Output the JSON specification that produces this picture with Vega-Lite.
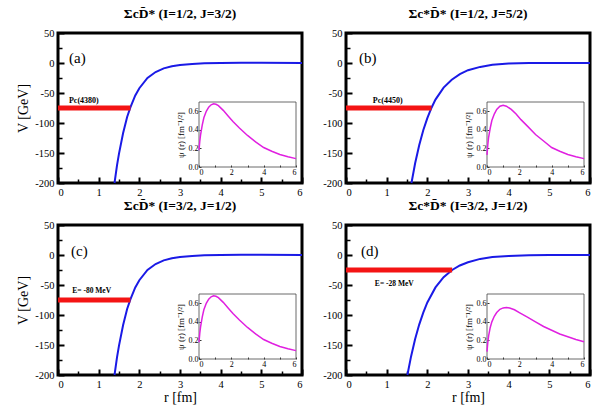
{
  "$schema": "https://vega.github.io/schema/vega-lite/v6.json",
  "padding": {"left": 15, "top": 5, "right": 5, "bottom": 2},
  "config": {
    "font": "Liberation Serif",
    "view": {"stroke": "black", "strokeWidth": 3},
    "axis": {
      "domain": false, "grid": false, "ticks": true, "tickColor": "black", "tickSize": -6, "tickWidth": 2,
      "labelFont": "Liberation Serif", "labelFontSize": 10.5, "labelColor": "black", "labelOverlap": false,
      "titleFont": "Liberation Serif", "titleFontWeight": "normal", "titleFontSize": 14,
      "titleColor": "black", "labelPadding": 10, "zindex": 2
    },
    "title": {"font": "Liberation Serif", "fontSize": 13.5, "fontWeight": "bold", "offset": 8, "color": "black"},
    "text": {"font": "Liberation Serif", "color": "black"}
  },
  "datasets": {
    "pot": [
      {"panel": "a", "r": 1.39, "V": -200}, {"panel": "a", "r": 1.45, "V": -171}, {"panel": "a", "r": 1.5, "V": -151},
      {"panel": "a", "r": 1.6, "V": -117}, {"panel": "a", "r": 1.7, "V": -90}, {"panel": "a", "r": 1.78, "V": -74},
      {"panel": "a", "r": 1.9, "V": -54}, {"panel": "a", "r": 2.0, "V": -42}, {"panel": "a", "r": 2.2, "V": -25},
      {"panel": "a", "r": 2.4, "V": -15}, {"panel": "a", "r": 2.6, "V": -9}, {"panel": "a", "r": 2.8, "V": -5.4},
      {"panel": "a", "r": 3.0, "V": -3.2}, {"panel": "a", "r": 3.3, "V": -1.5}, {"panel": "a", "r": 3.6, "V": -0.6},
      {"panel": "a", "r": 4.0, "V": 0}, {"panel": "a", "r": 4.5, "V": 0.3}, {"panel": "a", "r": 5.0, "V": 0.3},
      {"panel": "a", "r": 6.0, "V": 0.2},
      {"panel": "b", "r": 1.61, "V": -200}, {"panel": "b", "r": 1.7, "V": -167}, {"panel": "b", "r": 1.8, "V": -137},
      {"panel": "b", "r": 1.9, "V": -112}, {"panel": "b", "r": 2.0, "V": -92}, {"panel": "b", "r": 2.1, "V": -75},
      {"panel": "b", "r": 2.2, "V": -61}, {"panel": "b", "r": 2.4, "V": -41}, {"panel": "b", "r": 2.6, "V": -28},
      {"panel": "b", "r": 2.8, "V": -18.5}, {"panel": "b", "r": 3.0, "V": -12}, {"panel": "b", "r": 3.3, "V": -6.5},
      {"panel": "b", "r": 3.6, "V": -3}, {"panel": "b", "r": 4.0, "V": -1}, {"panel": "b", "r": 4.5, "V": -0.2},
      {"panel": "b", "r": 5.0, "V": 0.2}, {"panel": "b", "r": 6.0, "V": 0.2},
      {"panel": "c", "r": 1.39, "V": -200}, {"panel": "c", "r": 1.45, "V": -171}, {"panel": "c", "r": 1.5, "V": -151},
      {"panel": "c", "r": 1.6, "V": -117}, {"panel": "c", "r": 1.7, "V": -90}, {"panel": "c", "r": 1.78, "V": -74},
      {"panel": "c", "r": 1.9, "V": -54}, {"panel": "c", "r": 2.0, "V": -42}, {"panel": "c", "r": 2.2, "V": -25},
      {"panel": "c", "r": 2.4, "V": -15}, {"panel": "c", "r": 2.6, "V": -9}, {"panel": "c", "r": 2.8, "V": -5.4},
      {"panel": "c", "r": 3.0, "V": -3.2}, {"panel": "c", "r": 3.3, "V": -1.5}, {"panel": "c", "r": 3.6, "V": -0.6},
      {"panel": "c", "r": 4.0, "V": 0}, {"panel": "c", "r": 4.5, "V": 0.3}, {"panel": "c", "r": 5.0, "V": 0.3},
      {"panel": "c", "r": 6.0, "V": 0.2},
      {"panel": "d", "r": 1.51, "V": -200}, {"panel": "d", "r": 1.6, "V": -169}, {"panel": "d", "r": 1.7, "V": -140},
      {"panel": "d", "r": 1.8, "V": -116}, {"panel": "d", "r": 1.9, "V": -96}, {"panel": "d", "r": 2.0, "V": -79},
      {"panel": "d", "r": 2.2, "V": -54}, {"panel": "d", "r": 2.4, "V": -37}, {"panel": "d", "r": 2.61, "V": -25},
      {"panel": "d", "r": 2.8, "V": -17.5}, {"panel": "d", "r": 3.0, "V": -12}, {"panel": "d", "r": 3.3, "V": -6.5},
      {"panel": "d", "r": 3.6, "V": -3.5}, {"panel": "d", "r": 4.0, "V": -1.5}, {"panel": "d", "r": 4.5, "V": -0.5},
      {"panel": "d", "r": 5.0, "V": 0}, {"panel": "d", "r": 6.0, "V": 0.2}
    ],
    "bar": [
      {"panel": "a", "r0": 0, "r1": 1.78, "E": -75},
      {"panel": "b", "r0": 0, "r1": 2.1, "E": -75},
      {"panel": "c", "r0": 0, "r1": 1.78, "E": -75},
      {"panel": "d", "r0": 0, "r1": 2.61, "E": -25}
    ],
    "lab": [
      {"panel": "a", "r": 0.27, "V": -57, "text": "Pc(4380)"},
      {"panel": "b", "r": 0.66, "V": -58, "text": "Pc(4450)"},
      {"panel": "c", "r": 0.35, "V": -55, "text": "E= -80 MeV"},
      {"panel": "d", "r": 0.71, "V": -43, "text": "E= -28 MeV"}
    ],
    "tag": [
      {"panel": "a", "r": 0.27, "V": 17, "text": "(a)"},
      {"panel": "b", "r": 0.32, "V": 17, "text": "(b)"},
      {"panel": "c", "r": 0.32, "V": 15, "text": "(c)"},
      {"panel": "d", "r": 0.37, "V": 15, "text": "(d)"}
    ],
    "wave": [
      {"panel": "a", "r": 0, "psi": 0.18}, {"panel": "a", "r": 0.05, "psi": 0.28}, {"panel": "a", "r": 0.1, "psi": 0.35},
      {"panel": "a", "r": 0.2, "psi": 0.45}, {"panel": "a", "r": 0.3, "psi": 0.53}, {"panel": "a", "r": 0.45, "psi": 0.6},
      {"panel": "a", "r": 0.6, "psi": 0.645}, {"panel": "a", "r": 0.75, "psi": 0.67}, {"panel": "a", "r": 0.9, "psi": 0.68},
      {"panel": "a", "r": 1.05, "psi": 0.675}, {"panel": "a", "r": 1.2, "psi": 0.66}, {"panel": "a", "r": 1.5, "psi": 0.61},
      {"panel": "a", "r": 1.8, "psi": 0.55}, {"panel": "a", "r": 2.1, "psi": 0.49}, {"panel": "a", "r": 2.5, "psi": 0.42},
      {"panel": "a", "r": 3.0, "psi": 0.34}, {"panel": "a", "r": 3.5, "psi": 0.27}, {"panel": "a", "r": 4.0, "psi": 0.21},
      {"panel": "a", "r": 4.5, "psi": 0.17}, {"panel": "a", "r": 5.0, "psi": 0.135}, {"panel": "a", "r": 5.5, "psi": 0.11},
      {"panel": "a", "r": 6.0, "psi": 0.09},
      {"panel": "b", "r": 0, "psi": 0.13}, {"panel": "b", "r": 0.05, "psi": 0.24}, {"panel": "b", "r": 0.1, "psi": 0.32},
      {"panel": "b", "r": 0.2, "psi": 0.42}, {"panel": "b", "r": 0.3, "psi": 0.5}, {"panel": "b", "r": 0.45, "psi": 0.57},
      {"panel": "b", "r": 0.6, "psi": 0.62}, {"panel": "b", "r": 0.8, "psi": 0.655}, {"panel": "b", "r": 1.0, "psi": 0.665},
      {"panel": "b", "r": 1.2, "psi": 0.655}, {"panel": "b", "r": 1.5, "psi": 0.62}, {"panel": "b", "r": 1.8, "psi": 0.57},
      {"panel": "b", "r": 2.1, "psi": 0.51}, {"panel": "b", "r": 2.5, "psi": 0.44}, {"panel": "b", "r": 3.0, "psi": 0.35},
      {"panel": "b", "r": 3.5, "psi": 0.28}, {"panel": "b", "r": 4.0, "psi": 0.21}, {"panel": "b", "r": 4.5, "psi": 0.17},
      {"panel": "b", "r": 5.0, "psi": 0.135}, {"panel": "b", "r": 5.5, "psi": 0.11}, {"panel": "b", "r": 6.0, "psi": 0.09},
      {"panel": "c", "r": 0, "psi": 0.18}, {"panel": "c", "r": 0.05, "psi": 0.28}, {"panel": "c", "r": 0.1, "psi": 0.35},
      {"panel": "c", "r": 0.2, "psi": 0.45}, {"panel": "c", "r": 0.3, "psi": 0.53}, {"panel": "c", "r": 0.45, "psi": 0.6},
      {"panel": "c", "r": 0.6, "psi": 0.645}, {"panel": "c", "r": 0.75, "psi": 0.67}, {"panel": "c", "r": 0.9, "psi": 0.68},
      {"panel": "c", "r": 1.05, "psi": 0.675}, {"panel": "c", "r": 1.2, "psi": 0.66}, {"panel": "c", "r": 1.5, "psi": 0.61},
      {"panel": "c", "r": 1.8, "psi": 0.55}, {"panel": "c", "r": 2.1, "psi": 0.49}, {"panel": "c", "r": 2.5, "psi": 0.42},
      {"panel": "c", "r": 3.0, "psi": 0.34}, {"panel": "c", "r": 3.5, "psi": 0.27}, {"panel": "c", "r": 4.0, "psi": 0.21},
      {"panel": "c", "r": 4.5, "psi": 0.17}, {"panel": "c", "r": 5.0, "psi": 0.135}, {"panel": "c", "r": 5.5, "psi": 0.11},
      {"panel": "c", "r": 6.0, "psi": 0.09},
      {"panel": "d", "r": 0, "psi": 0.08}, {"panel": "d", "r": 0.05, "psi": 0.18}, {"panel": "d", "r": 0.1, "psi": 0.25},
      {"panel": "d", "r": 0.2, "psi": 0.34}, {"panel": "d", "r": 0.3, "psi": 0.4}, {"panel": "d", "r": 0.45, "psi": 0.46},
      {"panel": "d", "r": 0.6, "psi": 0.5}, {"panel": "d", "r": 0.8, "psi": 0.535}, {"panel": "d", "r": 1.0, "psi": 0.55},
      {"panel": "d", "r": 1.2, "psi": 0.555}, {"panel": "d", "r": 1.4, "psi": 0.55}, {"panel": "d", "r": 1.7, "psi": 0.53},
      {"panel": "d", "r": 2.0, "psi": 0.5}, {"panel": "d", "r": 2.5, "psi": 0.45}, {"panel": "d", "r": 3.0, "psi": 0.4},
      {"panel": "d", "r": 3.5, "psi": 0.35}, {"panel": "d", "r": 4.0, "psi": 0.31}, {"panel": "d", "r": 4.5, "psi": 0.27},
      {"panel": "d", "r": 5.0, "psi": 0.24}, {"panel": "d", "r": 5.5, "psi": 0.21}, {"panel": "d", "r": 6.0, "psi": 0.185}
    ]
  },
  "columns": 2,
  "spacing": {"row": 42, "column": 44},
  "bounds": "flush",
  "concat": [
    {
      "width": 244, "height": 150,
      "title": "ΣcD̄* (I=1/2, J=3/2)",
      "layer": [
        {"data": {"name": "pot"}, "transform": [{"filter": "datum.panel == 'a'"}],
         "mark": {"type": "line", "color": "#1a1ae6", "strokeWidth": 2},
         "encoding": {
           "x": {"field": "r", "type": "quantitative", "scale": {"domain": [0, 6], "nice": false},
                 "axis": {"orient": "bottom", "title": null, "values": [0, 1, 2, 3, 4, 5, 6]}},
           "y": {"field": "V", "type": "quantitative", "scale": {"domain": [-200, 50], "nice": false, "zero": false},
                 "axis": {"orient": "left", "title": "V [GeV]", "values": [-200, -150, -100, -50, 0, 50], "labelExpr": "'' + datum.value"}}
         }},
        {"data": {"name": "bar"}, "transform": [{"filter": "datum.panel == 'a'"}],
         "mark": {"type": "rule", "color": "#f41414", "strokeWidth": 5},
         "encoding": {
           "x": {"field": "r0", "type": "quantitative", "scale": {"domain": [0, 6], "nice": false},
                 "axis": {"orient": "bottom", "title": null, "labels": false, "tickSize": -4, "tickWidth": 1.5, "values": [0.5, 1.5, 2.5, 3.5, 4.5, 5.5]}},
           "x2": {"field": "r1"},
           "y": {"field": "E", "type": "quantitative", "scale": {"domain": [-200, 50], "nice": false, "zero": false},
                 "axis": {"orient": "left", "title": null, "labels": false, "tickSize": -4, "tickWidth": 1.5, "values": [-175, -125, -75, -25, 25]}}
         }},
        {"layer": [
          {"data": {"name": "lab"}, "transform": [{"filter": "datum.panel == 'a'"}],
           "mark": {"type": "text", "align": "left", "fontWeight": "bold", "fontSize": 8},
           "encoding": {"x": {"field": "r", "type": "quantitative", "scale": {"domain": [0, 6]}, "axis": null}, "y": {"field": "V", "type": "quantitative", "scale": {"domain": [-200, 50]}, "axis": null}, "text": {"field": "text"}}},
          {"data": {"name": "tag"}, "transform": [{"filter": "datum.panel == 'a'"}],
           "mark": {"type": "text", "align": "left", "fontSize": 15},
           "encoding": {"x": {"field": "r", "type": "quantitative", "axis": null}, "y": {"field": "V", "type": "quantitative", "axis": null}, "text": {"field": "text"}}}
        ]},
        {"layer": [
          {"data": {"values": [{}]},
           "mark": {"type": "rect", "fill": null, "stroke": "#444", "strokeWidth": 0.8},
           "encoding": {"x": {"datum": 0, "type": "quantitative"}, "x2": {"datum": 6}, "y": {"datum": 0, "type": "quantitative"}, "y2": {"datum": 0.7}}},
          {"data": {"name": "wave"}, "transform": [{"filter": "datum.panel == 'a'"}],
           "mark": {"type": "line", "color": "#e020e0", "strokeWidth": 1.5},
           "encoding": {
             "x": {"field": "r", "type": "quantitative", "scale": {"domain": [0, 6], "nice": false, "range": [141, 238]},
                   "axis": {"orient": "bottom", "offset": -16, "title": null, "values": [0, 1, 2, 3, 4, 5, 6], "labelExpr": "datum.value % 2 == 0 ? datum.label : ''", "tickSize": -2, "tickWidth": 0.8, "labelFontSize": 8, "labelPadding": 3}},
             "y": {"field": "psi", "type": "quantitative", "scale": {"domain": [0, 0.7], "nice": false, "range": [134, 69]},
                   "axis": {"orient": "left", "offset": -141, "title": "ψ (r) [fm⁻¹/²]", "titleFontSize": 9, "titlePadding": 3, "values": [0, 0.1, 0.2, 0.3, 0.4, 0.5, 0.6], "format": ".1f", "labelExpr": "round(datum.value * 10) % 2 == 0 ? datum.label : ''", "tickSize": -2, "tickWidth": 0.8, "labelFontSize": 8, "labelPadding": 3}}
           }}
        ]}
      ],
      "resolve": {"scale": {"x": "independent", "y": "independent"}}
    },
    {
      "width": 244, "height": 150,
      "title": "Σc*D̄* (I=1/2, J=5/2)",
      "layer": [
        {"data": {"name": "pot"}, "transform": [{"filter": "datum.panel == 'b'"}],
         "mark": {"type": "line", "color": "#1a1ae6", "strokeWidth": 2},
         "encoding": {
           "x": {"field": "r", "type": "quantitative", "scale": {"domain": [0, 6], "nice": false},
                 "axis": {"orient": "bottom", "title": null, "values": [0, 1, 2, 3, 4, 5, 6]}},
           "y": {"field": "V", "type": "quantitative", "scale": {"domain": [-200, 50], "nice": false, "zero": false},
                 "axis": {"orient": "left", "title": null, "values": [-200, -150, -100, -50, 0, 50], "labelExpr": "'' + datum.value"}}
         }},
        {"data": {"name": "bar"}, "transform": [{"filter": "datum.panel == 'b'"}],
         "mark": {"type": "rule", "color": "#f41414", "strokeWidth": 5},
         "encoding": {
           "x": {"field": "r0", "type": "quantitative", "scale": {"domain": [0, 6], "nice": false},
                 "axis": {"orient": "bottom", "title": null, "labels": false, "tickSize": -4, "tickWidth": 1.5, "values": [0.5, 1.5, 2.5, 3.5, 4.5, 5.5]}},
           "x2": {"field": "r1"},
           "y": {"field": "E", "type": "quantitative", "scale": {"domain": [-200, 50], "nice": false, "zero": false},
                 "axis": {"orient": "left", "title": null, "labels": false, "tickSize": -4, "tickWidth": 1.5, "values": [-175, -125, -75, -25, 25]}}
         }},
        {"layer": [
          {"data": {"name": "lab"}, "transform": [{"filter": "datum.panel == 'b'"}],
           "mark": {"type": "text", "align": "left", "fontWeight": "bold", "fontSize": 8},
           "encoding": {"x": {"field": "r", "type": "quantitative", "scale": {"domain": [0, 6]}, "axis": null}, "y": {"field": "V", "type": "quantitative", "scale": {"domain": [-200, 50]}, "axis": null}, "text": {"field": "text"}}},
          {"data": {"name": "tag"}, "transform": [{"filter": "datum.panel == 'b'"}],
           "mark": {"type": "text", "align": "left", "fontSize": 15},
           "encoding": {"x": {"field": "r", "type": "quantitative", "axis": null}, "y": {"field": "V", "type": "quantitative", "axis": null}, "text": {"field": "text"}}}
        ]},
        {"layer": [
          {"data": {"values": [{}]},
           "mark": {"type": "rect", "fill": null, "stroke": "#444", "strokeWidth": 0.8},
           "encoding": {"x": {"datum": 0, "type": "quantitative"}, "x2": {"datum": 6}, "y": {"datum": 0, "type": "quantitative"}, "y2": {"datum": 0.7}}},
          {"data": {"name": "wave"}, "transform": [{"filter": "datum.panel == 'b'"}],
           "mark": {"type": "line", "color": "#e020e0", "strokeWidth": 1.5},
           "encoding": {
             "x": {"field": "r", "type": "quantitative", "scale": {"domain": [0, 6], "nice": false, "range": [141, 238]},
                   "axis": {"orient": "bottom", "offset": -16, "title": null, "values": [0, 1, 2, 3, 4, 5, 6], "labelExpr": "datum.value % 2 == 0 ? datum.label : ''", "tickSize": -2, "tickWidth": 0.8, "labelFontSize": 8, "labelPadding": 3}},
             "y": {"field": "psi", "type": "quantitative", "scale": {"domain": [0, 0.7], "nice": false, "range": [134, 69]},
                   "axis": {"orient": "left", "offset": -141, "title": "ψ (r) [fm⁻¹/²]", "titleFontSize": 9, "titlePadding": 3, "values": [0, 0.1, 0.2, 0.3, 0.4, 0.5, 0.6], "format": ".1f", "labelExpr": "round(datum.value * 10) % 2 == 0 ? datum.label : ''", "tickSize": -2, "tickWidth": 0.8, "labelFontSize": 8, "labelPadding": 3}}
           }}
        ]}
      ],
      "resolve": {"scale": {"x": "independent", "y": "independent"}}
    },
    {
      "width": 244, "height": 150,
      "title": "ΣcD̄* (I=3/2, J=1/2)",
      "layer": [
        {"data": {"name": "pot"}, "transform": [{"filter": "datum.panel == 'c'"}],
         "mark": {"type": "line", "color": "#1a1ae6", "strokeWidth": 2},
         "encoding": {
           "x": {"field": "r", "type": "quantitative", "scale": {"domain": [0, 6], "nice": false},
                 "axis": {"orient": "bottom", "title": "r [fm]", "titlePadding": 1, "values": [0, 1, 2, 3, 4, 5, 6]}},
           "y": {"field": "V", "type": "quantitative", "scale": {"domain": [-200, 50], "nice": false, "zero": false},
                 "axis": {"orient": "left", "title": "V [GeV]", "values": [-200, -150, -100, -50, 0, 50], "labelExpr": "'' + datum.value"}}
         }},
        {"data": {"name": "bar"}, "transform": [{"filter": "datum.panel == 'c'"}],
         "mark": {"type": "rule", "color": "#f41414", "strokeWidth": 5},
         "encoding": {
           "x": {"field": "r0", "type": "quantitative", "scale": {"domain": [0, 6], "nice": false},
                 "axis": {"orient": "bottom", "title": null, "labels": false, "tickSize": -4, "tickWidth": 1.5, "values": [0.5, 1.5, 2.5, 3.5, 4.5, 5.5]}},
           "x2": {"field": "r1"},
           "y": {"field": "E", "type": "quantitative", "scale": {"domain": [-200, 50], "nice": false, "zero": false},
                 "axis": {"orient": "left", "title": null, "labels": false, "tickSize": -4, "tickWidth": 1.5, "values": [-175, -125, -75, -25, 25]}}
         }},
        {"layer": [
          {"data": {"name": "lab"}, "transform": [{"filter": "datum.panel == 'c'"}],
           "mark": {"type": "text", "align": "left", "fontWeight": "bold", "fontSize": 7.5},
           "encoding": {"x": {"field": "r", "type": "quantitative", "scale": {"domain": [0, 6]}, "axis": null}, "y": {"field": "V", "type": "quantitative", "scale": {"domain": [-200, 50]}, "axis": null}, "text": {"field": "text"}}},
          {"data": {"name": "tag"}, "transform": [{"filter": "datum.panel == 'c'"}],
           "mark": {"type": "text", "align": "left", "fontSize": 15},
           "encoding": {"x": {"field": "r", "type": "quantitative", "axis": null}, "y": {"field": "V", "type": "quantitative", "axis": null}, "text": {"field": "text"}}}
        ]},
        {"layer": [
          {"data": {"values": [{}]},
           "mark": {"type": "rect", "fill": null, "stroke": "#444", "strokeWidth": 0.8},
           "encoding": {"x": {"datum": 0, "type": "quantitative"}, "x2": {"datum": 6}, "y": {"datum": 0, "type": "quantitative"}, "y2": {"datum": 0.7}}},
          {"data": {"name": "wave"}, "transform": [{"filter": "datum.panel == 'c'"}],
           "mark": {"type": "line", "color": "#e020e0", "strokeWidth": 1.5},
           "encoding": {
             "x": {"field": "r", "type": "quantitative", "scale": {"domain": [0, 6], "nice": false, "range": [141, 238]},
                   "axis": {"orient": "bottom", "offset": -16, "title": null, "values": [0, 1, 2, 3, 4, 5, 6], "labelExpr": "datum.value % 2 == 0 ? datum.label : ''", "tickSize": -2, "tickWidth": 0.8, "labelFontSize": 8, "labelPadding": 3}},
             "y": {"field": "psi", "type": "quantitative", "scale": {"domain": [0, 0.7], "nice": false, "range": [134, 69]},
                   "axis": {"orient": "left", "offset": -141, "title": "ψ (r) [fm⁻¹/²]", "titleFontSize": 9, "titlePadding": 3, "values": [0, 0.1, 0.2, 0.3, 0.4, 0.5, 0.6], "format": ".1f", "labelExpr": "round(datum.value * 10) % 2 == 0 ? datum.label : ''", "tickSize": -2, "tickWidth": 0.8, "labelFontSize": 8, "labelPadding": 3}}
           }}
        ]}
      ],
      "resolve": {"scale": {"x": "independent", "y": "independent"}}
    },
    {
      "width": 244, "height": 150,
      "title": "Σc*D̄* (I=3/2, J=1/2)",
      "layer": [
        {"data": {"name": "pot"}, "transform": [{"filter": "datum.panel == 'd'"}],
         "mark": {"type": "line", "color": "#1a1ae6", "strokeWidth": 2},
         "encoding": {
           "x": {"field": "r", "type": "quantitative", "scale": {"domain": [0, 6], "nice": false},
                 "axis": {"orient": "bottom", "title": "r [fm]", "titlePadding": 1, "values": [0, 1, 2, 3, 4, 5, 6]}},
           "y": {"field": "V", "type": "quantitative", "scale": {"domain": [-200, 50], "nice": false, "zero": false},
                 "axis": {"orient": "left", "title": null, "values": [-200, -150, -100, -50, 0, 50], "labelExpr": "'' + datum.value"}}
         }},
        {"data": {"name": "bar"}, "transform": [{"filter": "datum.panel == 'd'"}],
         "mark": {"type": "rule", "color": "#f41414", "strokeWidth": 5},
         "encoding": {
           "x": {"field": "r0", "type": "quantitative", "scale": {"domain": [0, 6], "nice": false},
                 "axis": {"orient": "bottom", "title": null, "labels": false, "tickSize": -4, "tickWidth": 1.5, "values": [0.5, 1.5, 2.5, 3.5, 4.5, 5.5]}},
           "x2": {"field": "r1"},
           "y": {"field": "E", "type": "quantitative", "scale": {"domain": [-200, 50], "nice": false, "zero": false},
                 "axis": {"orient": "left", "title": null, "labels": false, "tickSize": -4, "tickWidth": 1.5, "values": [-175, -125, -75, -25, 25]}}
         }},
        {"layer": [
          {"data": {"name": "lab"}, "transform": [{"filter": "datum.panel == 'd'"}],
           "mark": {"type": "text", "align": "left", "fontWeight": "bold", "fontSize": 7.5},
           "encoding": {"x": {"field": "r", "type": "quantitative", "scale": {"domain": [0, 6]}, "axis": null}, "y": {"field": "V", "type": "quantitative", "scale": {"domain": [-200, 50]}, "axis": null}, "text": {"field": "text"}}},
          {"data": {"name": "tag"}, "transform": [{"filter": "datum.panel == 'd'"}],
           "mark": {"type": "text", "align": "left", "fontSize": 15},
           "encoding": {"x": {"field": "r", "type": "quantitative", "axis": null}, "y": {"field": "V", "type": "quantitative", "axis": null}, "text": {"field": "text"}}}
        ]},
        {"layer": [
          {"data": {"values": [{}]},
           "mark": {"type": "rect", "fill": null, "stroke": "#444", "strokeWidth": 0.8},
           "encoding": {"x": {"datum": 0, "type": "quantitative"}, "x2": {"datum": 6}, "y": {"datum": 0, "type": "quantitative"}, "y2": {"datum": 0.7}}},
          {"data": {"name": "wave"}, "transform": [{"filter": "datum.panel == 'd'"}],
           "mark": {"type": "line", "color": "#e020e0", "strokeWidth": 1.5},
           "encoding": {
             "x": {"field": "r", "type": "quantitative", "scale": {"domain": [0, 6], "nice": false, "range": [141, 238]},
                   "axis": {"orient": "bottom", "offset": -16, "title": null, "values": [0, 1, 2, 3, 4, 5, 6], "labelExpr": "datum.value % 2 == 0 ? datum.label : ''", "tickSize": -2, "tickWidth": 0.8, "labelFontSize": 8, "labelPadding": 3}},
             "y": {"field": "psi", "type": "quantitative", "scale": {"domain": [0, 0.7], "nice": false, "range": [134, 69]},
                   "axis": {"orient": "left", "offset": -141, "title": "ψ (r) [fm⁻¹/²]", "titleFontSize": 9, "titlePadding": 3, "values": [0, 0.1, 0.2, 0.3, 0.4, 0.5, 0.6], "format": ".1f", "labelExpr": "round(datum.value * 10) % 2 == 0 ? datum.label : ''", "tickSize": -2, "tickWidth": 0.8, "labelFontSize": 8, "labelPadding": 3}}
           }}
        ]}
      ],
      "resolve": {"scale": {"x": "independent", "y": "independent"}}
    }
  ]
}
